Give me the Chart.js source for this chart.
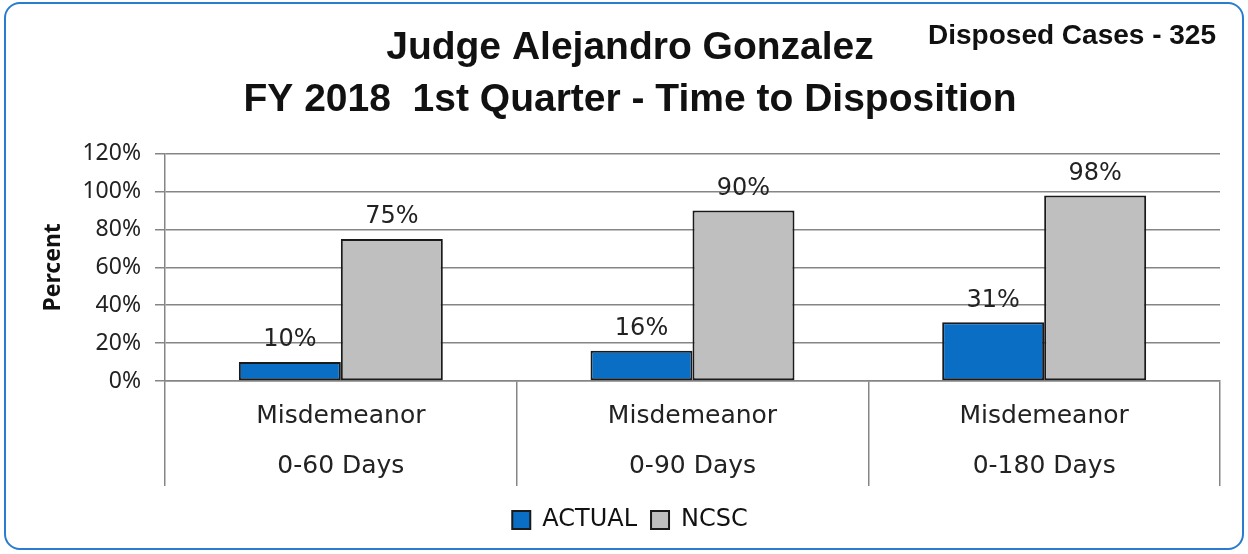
<!DOCTYPE html>
<html>
<head>
<meta charset="utf-8">
<script src="https://cdn.jsdelivr.net/npm/chart.js@4.4.1/dist/chart.umd.min.js"></script>
<style>
  html, body { margin: 0; padding: 0; background: #ffffff; }
  #wrap { position: relative; width: 1248px; height: 554px; }
  #frame { position: absolute; left: 4px; top: 2px; width: 1240px; height: 548px; box-sizing: border-box;
           border: 2px solid #2a7ccf; border-radius: 16px; pointer-events: none; }
  #note { position: absolute; left: 920px; top: 19px; width: 304px; text-align: center;
          font: bold 28px "Liberation Sans", Arial, sans-serif; color: #111; white-space: nowrap; }
  canvas { position: absolute; left: 0; top: 0; }
</style>
</head>
<body>
<div id="wrap">
  <canvas id="c" width="1248" height="554"></canvas>
  <div id="frame"></div>
  <div id="note">Disposed Cases - 325</div>
</div>
<script>
const categories = [["Misdemeanor", "0-60 Days"], ["Misdemeanor", "0-90 Days"], ["Misdemeanor", "0-180 Days"]];
const actualValues = [10, 16, 31];
const ncscValues = [75, 90, 98];
const yTicks = [0, 20, 40, 60, 80, 100, 120];
const titleLines = ["Judge Alejandro Gonzalez", "FY 2018  1st Quarter - Time to Disposition"];

const barLabels = {
  id: 'barLabels',
  afterDatasetsDraw(chart) {
    const ctx = chart.ctx;
    ctx.save();
    ctx.font = '24px "DejaVu Sans", sans-serif';
    ctx.fillStyle = '#222';
    ctx.textAlign = 'center';
    ctx.textBaseline = 'bottom';
    chart.data.datasets.forEach((ds, i) => {
      const meta = chart.getDatasetMeta(i);
      meta.data.forEach((el, j) => {
        ctx.fillText(ds.data[j] + '%', el.x, el.y - 10);
      });
    });
    ctx.restore();
  }
};

new Chart(document.getElementById('c'), {
  type: 'bar',
  data: {
    labels: categories,
    datasets: [
      { label: 'ACTUAL', data: actualValues, backgroundColor: '#0a6fc4', borderColor: '#1a1a1a', borderWidth: 2, borderSkipped: false },
      { label: 'NCSC', data: ncscValues, backgroundColor: '#bfbfbf', borderColor: '#1a1a1a', borderWidth: 2, borderSkipped: false }
    ]
  },
  options: {
    responsive: false,
    animation: false,
    devicePixelRatio: 1,
    layout: { padding: { left: 40, right: 28, top: 0, bottom: 12 } },
    datasets: { bar: { categoryPercentage: 0.58, barPercentage: 1.0 } },
    plugins: {
      title: {
        display: true,
        text: titleLines,
        color: '#111',
        font: { family: '"Liberation Sans", Arial, sans-serif', size: 39, weight: 'bold', lineHeight: 1.33 },
        padding: { top: 22, bottom: 28 }
      },
      legend: {
        position: 'bottom',
        labels: {
          color: '#111',
          boxWidth: 18, boxHeight: 18,
          padding: 14,
          font: { family: '"DejaVu Sans", sans-serif', size: 24 }
        }
      },
      tooltip: { enabled: false }
    },
    scales: {
      x: {
        offset: true,
        grid: { display: true, drawOnChartArea: false, drawTicks: true, tickLength: 105, offset: true, color: '#858585', lineWidth: 1.5 },
        border: { display: true, color: '#858585', width: 1.5 },
        ticks: {
          color: '#222', padding: -95,
          font: { family: '"DejaVu Sans", sans-serif', size: 25, lineHeight: 2.0 },
          maxRotation: 0, autoSkip: false
        },
        afterFit(scale) { scale.height = 113; }
      },
      y: {
        min: 0, max: 120,
        afterBuildTicks(scale) { scale.ticks = yTicks.map(v => ({ value: v })); },
        grid: { color: '#858585', lineWidth: 1.5, tickLength: 10 },
        border: { display: true, color: '#858585', width: 1.5 },
        ticks: {
          color: '#222', padding: 14,
          font: { family: '"Noto Sans", sans-serif', size: 23 },
          callback: v => v + '%'
        },
        title: {
          display: true, text: 'Percent', color: '#111',
          font: { family: '"Noto Sans", sans-serif', size: 23, weight: 'bold' },
          padding: { top: 0, bottom: 4 }
        },
        afterFit(scale) { scale.width = 125; }
      }
    }
  },
  plugins: [barLabels]
});
</script>
</body>
</html>
